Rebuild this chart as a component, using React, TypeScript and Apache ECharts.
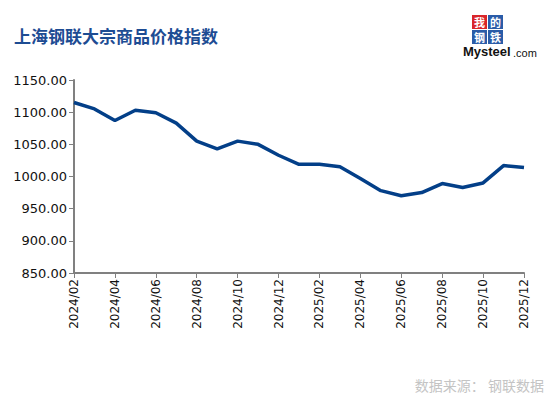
import React, { useEffect, useRef } from "react";
import * as echarts from "echarts";

const months = [
  "2024/02", "2024/03", "2024/04", "2024/05", "2024/06", "2024/07", "2024/08", "2024/09",
  "2024/10", "2024/11", "2024/12", "2025/01", "2025/02", "2025/03", "2025/04", "2025/05",
  "2025/06", "2025/07", "2025/08", "2025/09", "2025/10", "2025/11", "2025/12",
];
const indexValues = [
  1115, 1105, 1087, 1103, 1099, 1083, 1055, 1043,
  1055, 1050, 1033, 1019, 1019, 1015, 997, 978,
  970, 975, 989, 983, 990, 1017, 1014,
];
const titleText = "上海钢联大宗商品价格指数";
const sourceText = "数据来源： 钢联数据";

export default function App() {
  const ref = useRef<HTMLDivElement>(null);
  useEffect(() => {
    const chart = echarts.init(ref.current!, null, { renderer: "svg" });
    const charFont = "bold 11px 'Noto Sans CJK SC'";
    chart.setOption({
      animation: false,
      backgroundColor: "#ffffff",
      grid: { left: 74, right: 24, top: 80, bottom: 124 },
      xAxis: {
        type: "category",
        data: months,
        boundaryGap: false,
        axisLine: { lineStyle: { color: "#808080", width: 2 } },
        axisTick: { interval: 1, length: 5, lineStyle: { color: "#808080" } },
        axisLabel: {
          interval: 1,
          rotate: 90,
          color: "#111",
          fontSize: 12,
          fontFamily: "DejaVu Sans, sans-serif",
          margin: 6,
        },
        splitLine: { show: false },
      },
      yAxis: {
        type: "value",
        min: 850,
        max: 1150,
        interval: 50,
        axisLine: { show: true, lineStyle: { color: "#808080", width: 2 } },
        axisTick: { show: true, length: 5, lineStyle: { color: "#808080" } },
        axisLabel: {
          color: "#111",
          fontSize: 13,
          fontFamily: "DejaVu Sans, sans-serif",
          margin: 7,
          formatter: (v: number) => v.toFixed(2),
        },
        splitLine: { show: false },
      },
      series: [
        {
          type: "line",
          data: indexValues,
          symbol: "none",
          lineStyle: { color: "#033f88", width: 3.5 },
        },
      ],
      graphic: [
        {
          type: "text",
          left: 14,
          top: 27,
          style: {
            text: titleText,
            fill: "#1d4c93",
            font: "bold 17px 'Noto Sans CJK SC', serif",
          },
        },
        { type: "rect", shape: { x: 472, y: 15, width: 15, height: 14 }, style: { fill: "#d9252a" } },
        { type: "rect", shape: { x: 488, y: 15, width: 15, height: 14 }, style: { fill: "#2a5ca8" } },
        { type: "rect", shape: { x: 472, y: 30, width: 15, height: 14 }, style: { fill: "#2a5ca8" } },
        { type: "rect", shape: { x: 488, y: 30, width: 15, height: 14 }, style: { fill: "#2a5ca8" } },
        { type: "text", x: 474, y: 16, style: { text: "我", fill: "#fff", font: charFont } },
        { type: "text", x: 490, y: 16, style: { text: "的", fill: "#fff", font: charFont } },
        { type: "text", x: 474, y: 31, style: { text: "钢", fill: "#fff", font: charFont } },
        { type: "text", x: 490, y: 31, style: { text: "铁", fill: "#fff", font: charFont } },
        {
          type: "text",
          x: 463,
          y: 45,
          style: { text: "Mysteel", fill: "#111", font: "bold 13px 'Liberation Sans', Arial" },
        },
        {
          type: "text",
          x: 513,
          y: 47,
          style: { text: ".com", fill: "#111", font: "11px 'Liberation Sans', Arial" },
        },
        {
          type: "text",
          right: 4,
          top: 378,
          style: {
            text: sourceText,
            fill: "#c4c4c4",
            font: "14px 'Noto Sans CJK SC', sans-serif",
          },
        },
      ],
    });
    return () => chart.dispose();
  }, []);
  return <div ref={ref} style={{ width: 548, height: 397, position: "absolute", left: 0, top: 0 }} />;
}
